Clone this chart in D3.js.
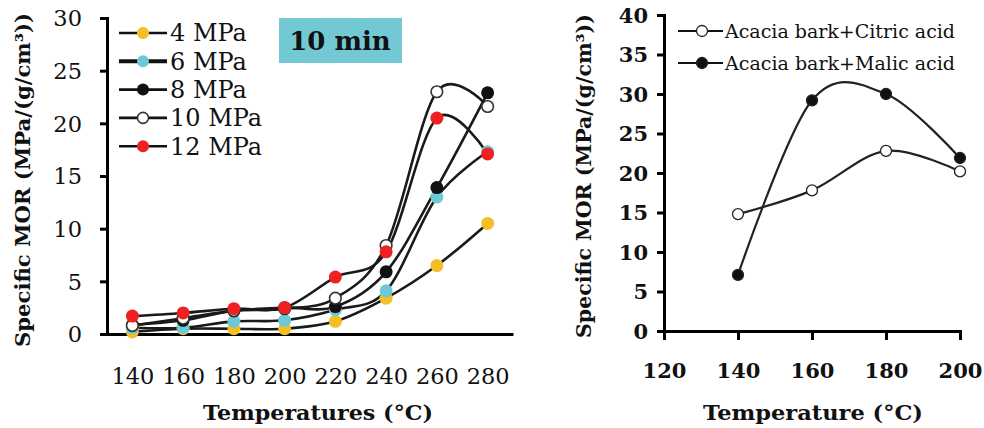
<!DOCTYPE html>
<html><head><meta charset="utf-8">
<script src="https://cdn.jsdelivr.net/npm/d3@7"></script>
<style>
html,body{margin:0;padding:0;background:#fff;}
text{font-family:"DejaVu Serif","Liberation Serif",serif;fill:#111;}
</style></head>
<body><svg id="c" width="984" height="428"></svg>
<script>
// ---- Left panel data (10 min) ----
const tempsLeft = [140,160,180,200,220,240,260,280];
const seriesNames = ["4 MPa","6 MPa","8 MPa","10 MPa","12 MPa"];
const mor4  = [0.2,0.5,0.5,0.5,1.2,3.4,6.5,10.5];
const mor6  = [0.6,0.6,1.2,1.3,2.3,4.1,13.0,17.3];
const mor8  = [0.85,1.3,2.2,2.5,2.6,5.9,13.9,22.9];
const mor10 = [0.8,1.5,2.2,2.4,3.4,8.4,23.0,21.6];
const mor12 = [1.7,2.0,2.4,2.5,5.4,7.8,20.5,17.1];
const seriesColors = ["#f4bf24","#6dc9d5","#111111","#ffffff","#ee2020"];
const leftYTicks = [0,5,10,15,20,25,30];
// ---- Right panel data ----
const tempsRight = [140,160,180,200];
const rightNames = ["Acacia bark+Citric acid","Acacia bark+Malic acid"];
const citric = [14.8,17.8,22.8,20.2];
const malic  = [7.1,29.2,30.0,21.9];
const rightXTicks = [120,140,160,180,200];
const rightYTicks = [0,5,10,15,20,25,30,35,40];

const svg = d3.select("#c");
const curve = d3.curveCardinal.tension(0);

// ================= LEFT =================
const L = svg.append("g");
const xL = d3.scalePoint().domain(tempsLeft).range([107,513]).padding(0.5);
const yL = d3.scaleLinear().domain([0,30]).range([334,18]);

const yAxL = L.append("g").attr("transform","translate(107,0)")
  .call(d3.axisLeft(yL).tickValues(leftYTicks).tickSizeOuter(0).tickSize(7).tickPadding(18));
const xAxL = L.append("g").attr("transform","translate(0,334)")
  .call(d3.axisBottom(xL).tickSize(0).tickSizeOuter(0).tickPadding(34));
[yAxL,xAxL].forEach(a=>{
  a.selectAll("path").attr("stroke","#000").attr("stroke-width",3);
  a.selectAll("line").attr("stroke","#000").attr("stroke-width",3);
  a.selectAll("text").attr("font-family","DejaVu Serif").attr("font-size",22.5).attr("fill","#111");
});
yAxL.selectAll("text").attr("dy","0.35em");

const leftData = [mor4,mor6,mor8,mor10,mor12];
const lineL = d3.line().x((d,i)=>xL(tempsLeft[i])).y(d=>yL(d)).curve(curve);
leftData.forEach((vals,k)=>{
  L.append("path").attr("d",lineL(vals)).attr("fill","none")
   .attr("stroke","#1a1a1a").attr("stroke-width",2.6);
});
leftData.forEach((vals,k)=>{
  L.append("g").selectAll("circle").data(vals).join("circle")
   .attr("cx",(d,i)=>xL(tempsLeft[i])).attr("cy",d=>yL(d)).attr("r",k===3?5.8:6.5)
   .attr("fill",seriesColors[k])
   .attr("stroke",k===3?"#333":"none").attr("stroke-width",k===3?1.6:0);
});

// legend left
const legL = L.append("g");
seriesNames.forEach((n,k)=>{
  const y = 33 + k*28.3;
  legL.append("line").attr("x1",119).attr("x2",167).attr("y1",y).attr("y2",y)
    .attr("stroke","#111").attr("stroke-width",k===1?4:2.6);
  legL.append("circle").attr("cx",143).attr("cy",y).attr("r",k===3?5.5:6)
    .attr("fill",seriesColors[k]).attr("stroke",k===3?"#333":"none").attr("stroke-width",1.6);
  legL.append("text").attr("x",170).attr("y",y).attr("dy","0.35em")
    .attr("font-size",24).text(n);
});

// 10 min box
L.append("rect").attr("x",279).attr("y",18).attr("width",123).attr("height",45).attr("fill","#72c9d4");
L.append("text").attr("x",340).attr("y",41).attr("dy","0.35em").attr("text-anchor","middle")
  .attr("font-size",26).attr("font-weight","bold").text("10 min");

// titles
L.append("text").attr("transform","translate(30,180) rotate(-90)").attr("text-anchor","middle")
  .attr("font-size",20).attr("font-weight","bold")
  .attr("textLength",334).attr("lengthAdjust","spacingAndGlyphs")
  .text("Specific MOR (MPa/(g/cm³))");
L.append("text").attr("x",318).attr("y",420).attr("text-anchor","middle")
  .attr("font-size",21).attr("font-weight","bold")
  .attr("textLength",230).attr("lengthAdjust","spacingAndGlyphs")
  .text("Temperatures (°C)");

// ================= RIGHT =================
const R = svg.append("g");
const xR = d3.scaleLinear().domain([120,200]).range([664,960]);
const yR = d3.scaleLinear().domain([0,40]).range([331,15]);
const yAxR = R.append("g").attr("transform","translate(664,0)")
  .call(d3.axisLeft(yR).tickValues(rightYTicks).tickSizeOuter(0).tickSize(7).tickPadding(9));
const xAxR = R.append("g").attr("transform","translate(0,331)")
  .call(d3.axisBottom(xR).tickValues(rightXTicks).tickSizeOuter(0).tickSize(9).tickPadding(23));
[yAxR,xAxR].forEach(a=>{
  a.selectAll("path").attr("stroke","#000").attr("stroke-width",3);
  a.selectAll("line").attr("stroke","#000").attr("stroke-width",3);
  a.selectAll("text").attr("font-family","DejaVu Serif").attr("font-size",21)
    .attr("font-weight","bold").attr("fill","#111");
});
yAxR.selectAll("text").attr("dy","0.35em");

const lineR = d3.line().x((d,i)=>xR(tempsRight[i])).y(d=>yR(d)).curve(curve);
[citric,malic].forEach((vals,k)=>{
  R.append("path").attr("d",lineR(vals)).attr("fill","none")
   .attr("stroke","#222").attr("stroke-width",2.2);
});
[citric,malic].forEach((vals,k)=>{
  R.append("g").selectAll("circle").data(vals).join("circle")
   .attr("cx",(d,i)=>xR(tempsRight[i])).attr("cy",d=>yR(d)).attr("r",5.5)
   .attr("fill",k===0?"#fff":"#111").attr("stroke","#222").attr("stroke-width",1.3);
});

// legend right
rightNames.forEach((n,k)=>{
  const y = 31 + k*32;
  R.append("line").attr("x1",678).attr("x2",723).attr("y1",y).attr("y2",y)
    .attr("stroke","#111").attr("stroke-width",2);
  R.append("circle").attr("cx",702).attr("cy",y).attr("r",5.5)
    .attr("fill",k===0?"#fff":"#111").attr("stroke","#222").attr("stroke-width",1.3);
  R.append("text").attr("x",725).attr("y",y).attr("dy","0.35em")
    .attr("font-size",19).attr("fill","#333")
    .attr("textLength",230).attr("lengthAdjust","spacingAndGlyphs").text(n);
});

R.append("text").attr("transform","translate(591,176) rotate(-90)").attr("text-anchor","middle")
  .attr("font-size",20).attr("font-weight","bold")
  .attr("textLength",324).attr("lengthAdjust","spacingAndGlyphs")
  .text("Specific MOR (MPa/(g/cm³))");
R.append("text").attr("x",813).attr("y",420).attr("text-anchor","middle")
  .attr("font-size",21).attr("font-weight","bold")
  .attr("textLength",220).attr("lengthAdjust","spacingAndGlyphs")
  .text("Temperature (°C)");
</script></body></html>
